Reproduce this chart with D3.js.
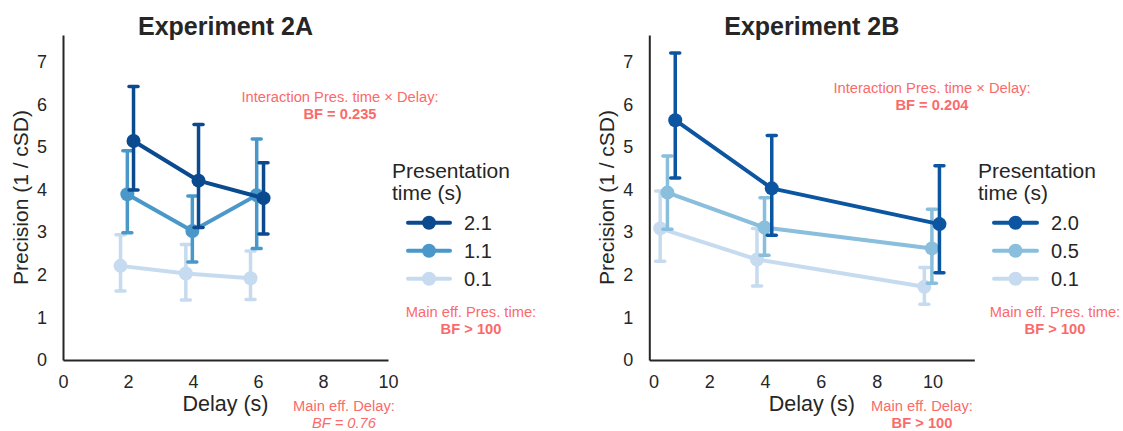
<!DOCTYPE html>
<html><head><meta charset="utf-8">
<script src="https://cdn.jsdelivr.net/npm/d3@7"></script>
<style>
body{margin:0;background:#fff;}
text{font-family:"Liberation Sans",Arial,sans-serif;}
</style></head>
<body><svg id="c" width="1123" height="431"></svg>
<script>
// ---------- DATA ----------
const titles = ["Experiment 2A", "Experiment 2B"];
const xTicksA = [0, 2, 4, 6, 8, 10];
const xTicksB = [0, 2, 4, 6, 8, 10];
const yTicks = [0, 1, 2, 3, 4, 5, 6, 7];
const legendLabelsA = ["2.1", "1.1", "0.1"];
const legendLabelsB = ["2.0", "0.5", "0.1"];

// Experiment 2A (x = plotted, dodged delay positions)
const xA_hi = [2.17, 4.17, 6.17];
const yA_hi = [5.14, 4.21, 3.80];
const loA_hi = [3.99, 3.11, 2.96];
const upA_hi = [6.42, 5.53, 4.63];

const xA_mid = [1.98, 3.98, 5.96];
const yA_mid = [3.89, 3.03, 3.87];
const loA_mid = [2.99, 2.30, 2.62];
const upA_mid = [4.91, 3.85, 5.19];

const xA_lo = [1.77, 3.78, 5.77];
const yA_lo = [2.21, 2.03, 1.92];
const loA_lo = [1.62, 1.41, 1.42];
const upA_lo = [2.94, 2.71, 2.56];

// Experiment 2B
const xB_hi = [0.78, 4.24, 10.25];
const yB_hi = [5.63, 4.03, 3.19];
const loB_hi = [4.27, 2.93, 2.05];
const upB_hi = [7.21, 5.27, 4.56];

const xB_mid = [0.50, 3.98, 9.98];
const yB_mid = [3.93, 3.11, 2.62];
const loB_mid = [3.07, 2.46, 1.80];
const upB_mid = [4.79, 3.81, 3.54];

const xB_lo = [0.24, 3.71, 9.71];
const yB_lo = [3.09, 2.36, 1.72];
const loB_lo = [2.32, 1.74, 1.31];
const upB_lo = [3.97, 3.09, 2.17];

const colorsA = ["#0b4a8f", "#4a98c9", "#c6dbef"];
const colorsB = ["#0b55a1", "#89bedc", "#c6dbef"];

// ---------- DRAW ----------
const svg = d3.select("#c");
const ink = "#262626";
const red = "#fb6a6a";

function series(x, y, lo, up){ return x.map((v,i)=>({x:v, y:y[i], lo:lo[i], up:up[i]})); }

const panels = [
  { title: titles[0], xdom:[0,10], xr:[63,388], xt:xTicksA, labels:legendLabelsA, colors:colorsA,
    data:[series(xA_hi,yA_hi,loA_hi,upA_hi), series(xA_mid,yA_mid,loA_mid,upA_mid), series(xA_lo,yA_lo,loA_lo,upA_lo)],
    ylabX:21, legX:392, legLine:[408,450], legText:464,
    inter:{x:340, t:"BF = 0.235", y:102}, pres:{x:471}, delay:{x:344, t:"BF = 0.76", italic:true, bold:false} },
  { title: titles[1], xdom:[-0.15,11.5], xr:[649.3,974.3], xt:xTicksB, labels:legendLabelsB, colors:colorsB,
    data:[series(xB_hi,yB_hi,loB_hi,upB_hi), series(xB_mid,yB_mid,loB_mid,upB_mid), series(xB_lo,yB_lo,loB_lo,upB_lo)],
    ylabX:607, legX:978, legLine:[994,1037], legText:1051,
    inter:{x:932, t:"BF = 0.204", y:93}, pres:{x:1055}, delay:{x:922, t:"BF > 100", italic:false, bold:true} }
];

const y = d3.scaleLinear().domain([0, 7.63]).range([360, 35]);

panels.forEach(p => {
  const x = d3.scaleLinear().domain(p.xdom).range(p.xr);
  const g = svg.append("g");

  // axes
  const ya = g.append("g").attr("transform", `translate(${p.xr[0]},0)`)
    .call(d3.axisLeft(y).tickValues(yTicks).tickSize(0).tickPadding(16).tickFormat(d3.format("d")));
  const xa = g.append("g").attr("transform", `translate(0,360)`)
    .call(d3.axisBottom(x).tickValues(p.xt).tickSize(0).tickPadding(15).tickFormat(d3.format("d")));
  [ya, xa].forEach(a => {
    a.select(".domain").attr("stroke", ink).attr("stroke-width", 2);
    a.selectAll("text").attr("fill", ink).style("font-size", "18px").style("font-family", "Liberation Sans, Arial, sans-serif");
  });

  // title
  g.append("text").attr("x", (p.xr[0]+p.xr[1])/2).attr("y", 35).attr("text-anchor","middle")
    .attr("fill", ink).style("font-size","25px").style("font-weight","bold").text(p.title);
  // axis labels
  g.append("text").attr("x", (p.xr[0]+p.xr[1])/2).attr("y", 411).attr("text-anchor","middle")
    .attr("fill", ink).style("font-size","21.5px").text("Delay (s)");
  g.append("text").attr("transform", `translate(${p.ylabX + 7},197.5) rotate(-90)`).attr("text-anchor","middle")
    .attr("fill", ink).style("font-size","21px").text("Precision (1 / cSD)");

  // series (draw lightest first)
  const line = d3.line().x(d=>x(d.x)).y(d=>y(d.y));
  [2,1,0].forEach(si => {
    const d = p.data[si], c = p.colors[si];
    const sg = g.append("g");
    sg.append("path").attr("d", line(d)).attr("fill","none").attr("stroke", c).attr("stroke-width", 4).attr("stroke-linejoin","round");
    sg.selectAll("circle").data(d).join("circle").attr("cx", e=>x(e.x)).attr("cy", e=>y(e.y)).attr("r", 7).attr("fill", c);
    d.forEach(e => {
      sg.append("line").attr("x1", x(e.x)).attr("x2", x(e.x)).attr("y1", y(e.lo)).attr("y2", y(e.up))
        .attr("stroke", c).attr("stroke-width", 3.5);
      [e.lo, e.up].forEach(v => sg.append("line").attr("x1", x(e.x)-4.5).attr("x2", x(e.x)+4.5)
        .attr("y1", y(v)).attr("y2", y(v)).attr("stroke", c).attr("stroke-width", 3.5).attr("stroke-linecap","round"));
    });
  });

  // legend
  g.append("text").attr("x", p.legX).attr("y", 178).attr("fill", ink).style("font-size","21px").text("Presentation");
  g.append("text").attr("x", p.legX).attr("y", 200).attr("fill", ink).style("font-size","21px").text("time (s)");
  p.labels.forEach((lab, i) => {
    const yy = 222.7 + i*28;
    const c = p.colors[i];
    g.append("line").attr("x1", p.legLine[0]).attr("x2", p.legLine[1]).attr("y1", yy).attr("y2", yy)
      .attr("stroke", c).attr("stroke-width", 4).attr("stroke-linecap","round");
    g.append("circle").attr("cx", (p.legLine[0]+p.legLine[1])/2).attr("cy", yy).attr("r", 7).attr("fill", c);
    g.append("text").attr("x", p.legText).attr("y", yy + 7).attr("fill", ink).style("font-size","20px").text(lab);
  });

  // annotations
  function ann(cx, y1, t1, t2, bold, italic){
    g.append("text").attr("x", cx).attr("y", y1).attr("text-anchor","middle").attr("fill", red).style("font-size","14.7px").text(t1);
    g.append("text").attr("x", cx).attr("y", y1+17).attr("text-anchor","middle").attr("fill", red).style("font-size","14.7px")
      .style("font-weight", bold ? "bold":"normal").style("font-style", italic ? "italic":"normal").text(t2);
  }
  ann(p.inter.x, p.inter.y, "Interaction Pres. time × Delay:", p.inter.t, true, false);
  ann(p.pres.x, 317, "Main eff. Pres. time:", "BF > 100", true, false);
  ann(p.delay.x, 411, "Main eff. Delay:", p.delay.t, p.delay.bold, p.delay.italic);
});
</script></body></html>
